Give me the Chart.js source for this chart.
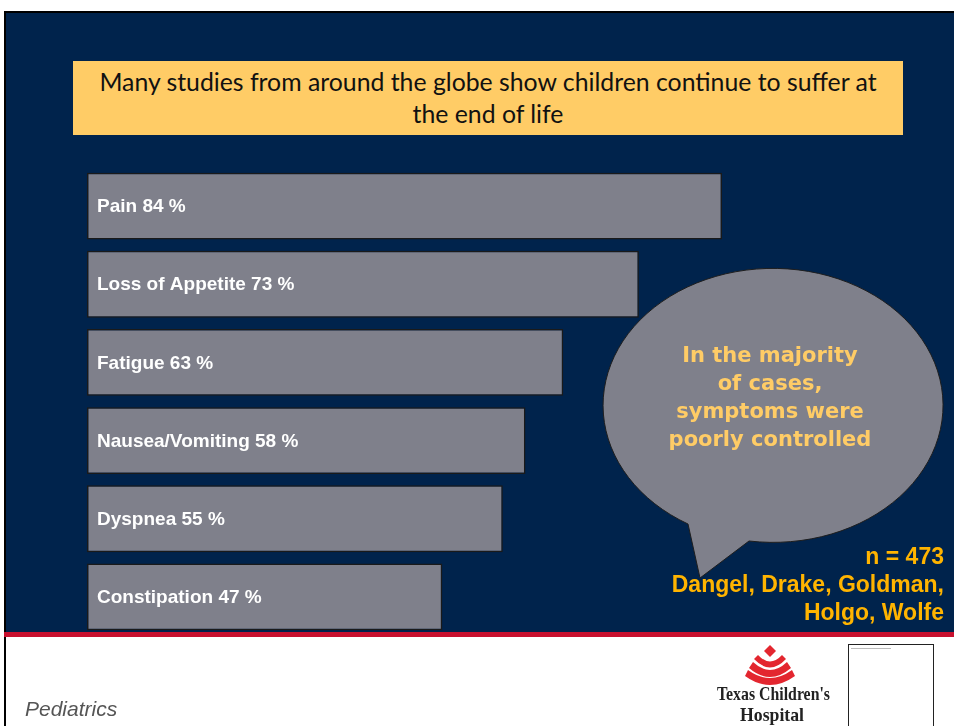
<!DOCTYPE html>
<html>
<head>
<meta charset="utf-8">
<script src="https://cdn.jsdelivr.net/npm/chart.js@4"></script>
<style>
  html, body { margin: 0; padding: 0; background: #ffffff; width: 954px; height: 726px; overflow: hidden; }
  #slide { position: absolute; left: 4px; top: 11px; width: 950px; height: 621px; background: #00234c;
           border-left: 2px solid #000; border-top: 2px solid #000; box-sizing: border-box; }
  #leftline { position: absolute; left: 4px; top: 632px; width: 2px; height: 94px; background: #000; }
  #redline { position: absolute; left: 4px; top: 632px; width: 950px; height: 5px; background: #c8102e; }
  #title { position: absolute; left: 73px; top: 61px; width: 830px; height: 74px; background: #ffcc66;
           font-family: "Lato", "Liberation Sans", sans-serif; font-size: 24.8px; line-height: 32px; color: #111;
           text-align: center; box-sizing: border-box; padding-top: 5px; }
  #chartbox { position: absolute; left: 87px; top: 167px; width: 756px; height: 469px; }
  #bubble { position: absolute; left: 0; top: 0; }
  .btxt { position: absolute; left: 620px; width: 300px; text-align: center; font-family: "DejaVu Sans", sans-serif;
          font-weight: bold; font-size: 21px; line-height: 28px; color: #ffcc66; top: 341px; }
  #refs { position: absolute; right: 10px; top: 542px; text-align: right; font-family: "Liberation Sans", Arial, sans-serif;
          font-weight: bold; font-size: 23px; line-height: 28px; color: #ffb400; }
  #ped { position: absolute; left: 25px; top: 697px; font-family: "Liberation Sans", Arial, sans-serif; font-style: italic;
         font-size: 21px; color: #555; }
  #logo { position: absolute; left: 700px; top: 640px; }
  #smallbox { position: absolute; left: 848px; top: 644px; width: 84px; height: 90px; border: 1px solid #222; background: #fff; }
</style>
</head>
<body>
<div id="slide"></div>
<div id="leftline"></div>
<div id="redline"></div>
<div id="title">Many studies from around the globe show children continue to suffer at<br>the end of life</div>
<div id="chartbox"><canvas id="c"></canvas></div>
<svg id="bubble" width="954" height="726">
  <path d="M 688 524 L 700 578 L 749 541 A 170 137 0 1 0 688 524 Z" fill="#7f808b" stroke="#1e1e1e" stroke-width="1"/>
</svg>
<div class="btxt">In the majority<br>of cases,<br>symptoms were<br>poorly controlled</div>
<div id="refs">n = 473<br>Dangel, Drake, Goldman,<br>Holgo, Wolfe</div>
<div id="ped">Pediatrics</div>
<svg id="logo" width="140" height="86">
  <g fill="#e3262f">
    <path d="M 70 5 L 76 11 L 70 17 L 64 11 Z"/>
    <path d="M 58 15 Q 70 28 82 15 L 86 19 Q 70 36 54 19 Z"/>
    <path d="M 53 22 Q 70 38 87 22 L 91 28 Q 70 46 49 28 Z"/>
    <path d="M 48 30 Q 70 46 92 30 L 95 36 Q 70 54 45 36 Z"/>
  </g>
  <text x="17" y="60" font-family="Liberation Serif, serif" font-weight="bold" font-size="19" fill="#222" textLength="113" lengthAdjust="spacingAndGlyphs">Texas Children's</text>
  <text x="40" y="81" font-family="Liberation Serif, serif" font-weight="bold" font-size="19" fill="#222" textLength="64" lengthAdjust="spacingAndGlyphs">Hospital</text>
</svg>
<div id="smallbox"><div style="margin:3px 0 0 2px;width:40px;height:1px;background:#bbb;"></div></div>
<script>
const categories = ["Pain", "Loss of Appetite", "Fatigue", "Nausea/Vomiting", "Dyspnea", "Constipation"];
const percentages = [84, 73, 63, 58, 55, 47];

const labelPlugin = {
  id: 'barLabels',
  afterDatasetsDraw(chart) {
    const ctx = chart.ctx;
    const meta = chart.getDatasetMeta(0);
    ctx.save();
    ctx.font = 'bold 19px "Liberation Sans", Arial, sans-serif';
    ctx.fillStyle = '#ffffff';
    ctx.textBaseline = 'middle';
    ctx.textAlign = 'left';
    meta.data.forEach((bar, i) => {
      ctx.fillText(categories[i] + ' ' + percentages[i] + ' %', bar.base + 10, bar.y + 1);
    });
    ctx.restore();
  }
};

new Chart(document.getElementById('c'), {
  type: 'bar',
  data: {
    labels: categories,
    datasets: [{
      data: percentages,
      backgroundColor: '#7f808b',
      borderColor: '#1a1a1a',
      borderWidth: 1.5,
      borderSkipped: false,
      categoryPercentage: 1,
      barPercentage: 0.855
    }]
  },
  options: {
    indexAxis: 'y',
    responsive: true,
    maintainAspectRatio: false,
    animation: false,
    layout: { padding: 0 },
    plugins: { legend: { display: false }, tooltip: { enabled: false } },
    scales: {
      x: { display: false, min: 0, max: 100 },
      y: { display: false }
    }
  },
  plugins: [labelPlugin]
});
</script>
</body>
</html>
